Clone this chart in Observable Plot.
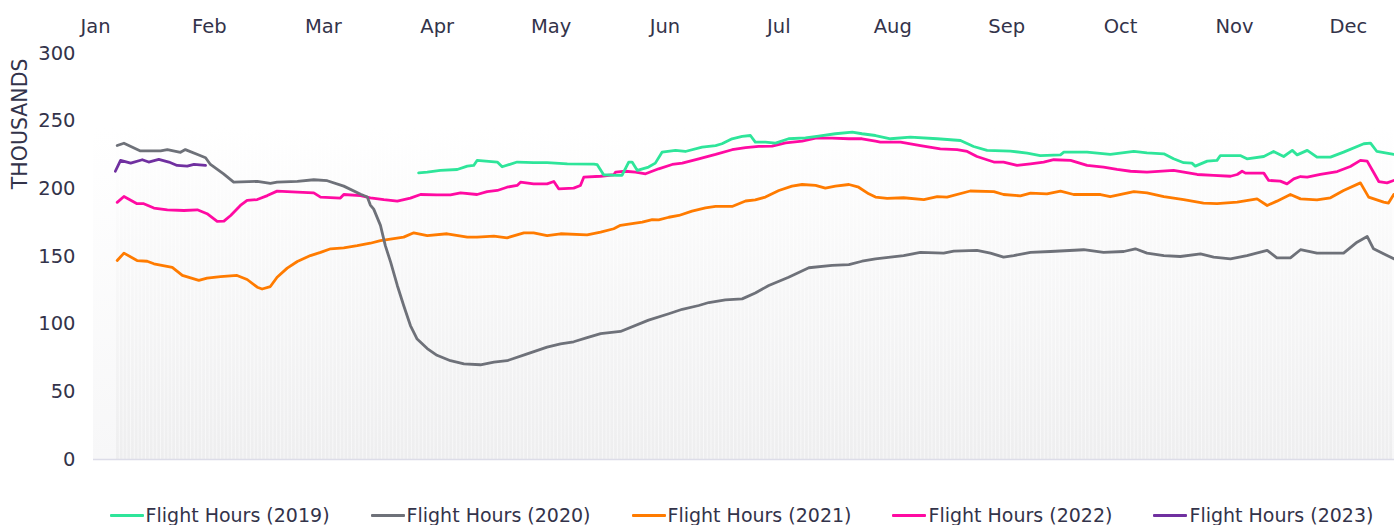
<!DOCTYPE html>
<html><head><meta charset="utf-8">
<script src="https://cdn.jsdelivr.net/npm/d3@7"></script>
<script src="https://cdn.jsdelivr.net/npm/@observablehq/plot@0.6"></script>
<style>
body{margin:0;background:#fff;font-family:"DejaVu Sans",sans-serif;}
#wrap{position:relative;width:1394px;height:525px;overflow:hidden}
#chart svg{display:block}
#legend{position:absolute;left:91px;width:1301px;top:503px;display:flex;justify-content:center;gap:41px;font-size:19px;color:#33334a;line-height:24px;white-space:nowrap}
.item{display:flex;align-items:center}
.sw{width:34px;height:3px;margin-right:2px;border-radius:1px}
</style></head><body>
<div id="wrap"><div id="chart"></div><div id="legend"></div></div>
<script>
// x values are day-of-year (months drawn as 365/12-day slots), y values in thousands of flight hours
const months = ["Jan","Feb","Mar","Apr","May","Jun","Jul","Aug","Sep","Oct","Nov","Dec"];
const yTicks = [0,50,100,150,200,250,300];
const seriesLabels = ["Flight Hours (2019)","Flight Hours (2020)","Flight Hours (2021)","Flight Hours (2022)","Flight Hours (2023)"];
const seriesColors = ["#2ee59a","#6e7179","#ff7b00","#ff0aa2","#7030a0"];

const fh2019 = [[86.3,211.8],[88.6,212.3],[92.1,213.6],[96.6,214.3],[99.3,216.8],[101,217.3],[101.9,221],[107.3,219.8],[108.6,216.3],[112.6,219.8],[117,219.3],[120.6,219.3],[126,218.5],[133.1,218.3],[134,217.8],[135.7,210.4],[139.3,209.9],[140.6,209.9],[142.4,219.8],[143.3,219.8],[144.7,213.6],[147.7,216.1],[149.5,219],[151.3,227.1],[154.9,228.4],[157.5,227.6],[162,230.8],[165.6,232],[167.3,233.3],[170,237],[172.7,238.7],[174.9,239.4],[176.2,234.5],[178.9,234.5],[181.6,233.8],[185.1,237],[189.6,237.7],[193.1,238.9],[197.6,240.7],[202.1,241.9],[204.7,240.7],[208.3,239.4],[212.3,237],[217.6,238.2],[224.8,237],[231,235.7],[234.5,231.3],[238.1,228.4],[244.3,227.9],[248.8,226.4],[252.3,224.6],[257.7,225.1],[258.6,227.1],[264.8,227.1],[271,225.4],[277.3,227.6],[280.8,226.6],[285.3,225.9],[287.9,222.2],[290.6,219.3],[292.8,219],[293.7,216.8],[296.9,220.5],[299.5,221],[300.4,224.6],[305.7,224.6],[307.5,222.2],[312,223.9],[314.6,227.6],[317.3,223.9],[319.6,228.4],[320.9,225.1],[323.6,228.4],[326.2,223.4],[329.8,223.4],[333.3,227.1],[338.7,233.3],[340.5,233.8],[342.2,227.6],[346.7,225.4]];

const fh2020 = [[5.8,232],[7.6,233.7],[12,228],[17.4,228],[19.2,229],[22.7,227],[24,229],[27.6,225],[29.4,223],[30.7,218],[34.2,211],[36.9,205],[43.2,205.5],[46.7,204],[48.5,205],[53.9,205.5],[58.3,206.7],[61.9,206],[66.3,202],[70.8,196],[72.6,194],[73.4,188],[74.3,185],[76.1,173],[77.4,158],[78.8,146],[80.6,128.6],[82.3,113.8],[84.1,99],[85.9,89],[88.6,82],[91.2,77],[94.8,73],[98.4,70.7],[102.8,70],[106.4,72],[109.9,73],[115.3,78],[120.6,83],[124.2,85.5],[127.7,87],[131.3,90],[134.9,93],[140.2,94.6],[147.7,103],[153.1,107.7],[156.7,111],[161.1,113.8],[163.8,116],[168.2,118],[172.7,118.7],[176.2,123],[179.8,128.6],[185.1,134.7],[190.5,141.7],[196.7,143.4],[201.2,144],[204.7,146.5],[208.3,148.3],[212.3,149.5],[215.8,150.7],[220.3,153],[226.5,152.5],[229.2,154],[235.4,154.5],[239,152.5],[242.5,149.5],[245.2,150.7],[249.7,153],[255,153.7],[263.9,155],[269.2,153],[274.6,153.7],[277.7,155.7],[280.8,152.5],[285.3,150.7],[289.7,150],[295.1,152],[298.6,149.5],[303.1,148.3],[307.5,150.7],[312.9,154.5],[315.5,149],[319.1,149],[321.8,155],[326.2,152.5],[333.3,152.5],[336.9,160.6],[339.6,164.8],[341.3,155.7],[346.7,148.3]];

const fh2021 = [[5.8,147],[7.6,152.5],[11.1,147],[13.8,146.5],[15.6,144.6],[20.5,142],[23.2,136],[27.6,132.3],[29.8,134],[33.4,135.2],[37.8,136],[40.5,133],[43.2,127.3],[44.5,126],[46.7,127.8],[48.5,134.7],[51.2,141.4],[53.9,146.3],[57.4,150.7],[60.1,153],[62.8,155.7],[66.3,156.4],[69.9,158],[73.4,159.8],[76.1,161.8],[82.3,164.3],[85,167.5],[88.6,165.5],[93.9,166.8],[99.3,164.3],[101.9,164.3],[106.4,165],[109.9,163.8],[114.4,167.5],[117,167.5],[120.6,165.5],[124.2,166.8],[131.3,166],[134.9,168],[138.4,170.5],[140.2,173],[142.4,174],[146,175.4],[148.7,177.3],[150.4,177],[153.1,179],[155.8,180.3],[159.3,183.5],[162.9,186],[165.6,187],[170,187],[173.6,191],[176.2,191.8],[178.9,193.9],[182.5,198.8],[186,202],[188.7,203.2],[192.3,202.5],[194.9,200.5],[197.6,202],[201.2,203.2],[203.8,201.2],[206.5,196.3],[208.3,193.9],[211.4,193],[215.8,193.4],[221.2,192],[224.8,194.3],[227.4,193.9],[233.6,198.4],[239.9,198],[242.5,195.8],[247,194.8],[249.7,196.8],[254.1,196.3],[257.7,198.3],[261.2,195.8],[268.4,195.8],[271,194.3],[277.3,198],[280.8,197],[285.3,194.3],[290.6,192],[295.9,189.5],[299.5,189],[304.9,190.2],[310.2,192.6],[312.9,187.7],[315.5,190.9],[319.1,195.8],[321.8,192.6],[326.2,191.8],[329.8,193.4],[333.3,198.8],[337.8,204.4],[340,193.9],[344,190.2],[345.3,189.5],[346.7,195.8]];

const fh2022 = [[5.8,190],[7.6,194.3],[11.1,189],[12.9,189],[15.6,185.8],[19.2,184.5],[23.6,184],[27.2,184.5],[29.8,181.6],[32.5,175.9],[34.3,176.1],[36.1,180.3],[38.7,187.7],[40.5,191.4],[43.2,192.1],[45.9,195],[48.5,198.3],[51.2,198],[53.9,197.6],[58.3,197],[60.1,193.9],[65.4,193.2],[66.3,195.8],[70.8,195],[73.4,193.4],[77,192],[80.6,190.9],[84.1,193.1],[86.8,195.8],[91.2,195.6],[94.8,195.6],[97.5,197],[101.9,195.8],[104.6,198],[107.3,198.8],[109.9,201.2],[112.6,202.5],[113.5,204.9],[117,203.7],[120.6,203.7],[122.4,205.4],[123.7,200],[127.7,200.5],[129.5,202.5],[130.4,208.6],[134.9,209.3],[138.4,210.4],[138.9,212.3],[141.5,213],[144.2,212.3],[146.9,211.1],[150.4,214.8],[154,218],[156.7,219],[161.1,222.2],[165.6,225.4],[170,228.9],[173.6,230.4],[177.1,231.3],[180.7,231.5],[184.3,234],[188.7,235.2],[192.3,237.4],[196.7,237.4],[201.2,237],[204.7,237],[208.3,235.2],[209.6,234.5],[215,234.5],[220.3,232],[225.6,229.5],[230.1,228.9],[232.8,227.6],[235.4,223.9],[239.9,219.8],[242.5,219.8],[246.1,217.3],[249.7,218.5],[253.2,219.8],[255.9,221.5],[260.4,221],[264.8,217.3],[269.2,216],[272.8,214.3],[276.4,213],[280.8,212.3],[287.9,213.6],[294.2,210.6],[298.6,209.9],[303.1,209.3],[304.9,210.6],[306.2,213],[307.1,211.6],[312,211.6],[313.3,206.2],[316.4,205.7],[318.2,203.7],[320,207.4],[321.8,209.1],[323.6,208.6],[327.1,210.6],[331.6,212.8],[335.1,216.5],[337.8,221],[339.6,220.5],[341.3,212.3],[342.7,205.4],[344.9,204.4],[346.7,206.2]];

const fh2023 = [[5.3,213],[6.7,221],[9.4,219],[12.5,221.5],[14.2,219.8],[16.9,221.7],[19.6,219.8],[21.8,217.3],[24.5,216.8],[26.3,218],[29.4,217.3]];

const seriesData = [fh2019, fh2020, fh2021, fh2022, fh2023];

const monthLen = 365 / 12;
const monthTicks = months.map((m, i) => i * monthLen);
const xLo = -0.53, xHi = 346.9;
const stripeDays = d3.range(6, 347);

const lineMarks = seriesData.map((s, i) => ({s, i})).reverse().map(({s, i}) =>
  Plot.line(s, {x: d => d[0], y: d => d[1], stroke: seriesColors[i], strokeWidth: 2.8, strokeLinejoin: "round"}));

const chart = Plot.plot({
  width: 1394, height: 480,
  marginLeft: 93, marginRight: 0, marginTop: 53, marginBottom: 21,
  style: {fontFamily: "'DejaVu Sans', sans-serif", fontSize: "19.5px", color: "#33334a", background: "transparent", overflow: "visible"},
  x: {domain: [xLo, xHi]},
  y: {domain: [0, 300]},
  marks: [
    Plot.rectY([0], {x1: () => xLo, x2: () => xHi, y1: () => 0, y2: () => 245, fill: "url(#bgGrad)"}),
    Plot.rectY(stripeDays, {x1: d => d - 0.5, x2: d => d + 0.5, y1: () => 0, y2: () => 245, fill: "url(#stripeGrad)", insetLeft: 0.5, insetRight: 0.5}),
    Plot.ruleY([0], {stroke: "#dcdce8", strokeWidth: 1.5}),
    Plot.axisY({ticks: yTicks, tickSize: 0, tickPadding: 18, label: null}),
    Plot.axisX({anchor: "top", ticks: monthTicks, tickFormat: (d, i) => months[i], tickSize: 0, tickPadding: 21, label: null}),
    Plot.text(["THOUSANDS"], {x: () => xLo, y: () => 248, text: d => d, dx: -73, rotate: -90, fontSize: 20.5, fill: "#33334a", textAnchor: "middle"}),
    ...lineMarks
  ]
});

const svg = d3.select(chart);
const defs = svg.insert("defs", ":first-child");
const g1 = defs.append("linearGradient").attr("id", "bgGrad").attr("x1", 0).attr("y1", 0).attr("x2", 0).attr("y2", 1);
g1.append("stop").attr("offset", "0%").attr("stop-color", "#ffffff");
g1.append("stop").attr("offset", "100%").attr("stop-color", "#f7f7f8");
const g2 = defs.append("linearGradient").attr("id", "stripeGrad").attr("x1", 0).attr("y1", 0).attr("x2", 0).attr("y2", 1);
g2.append("stop").attr("offset", "0%").attr("stop-color", "#ffffff");
g2.append("stop").attr("offset", "100%").attr("stop-color", "#eeeeef");

document.getElementById("chart").appendChild(chart);

const legend = d3.select("#legend");
seriesLabels.forEach((lab, i) => {
  const it = legend.append("div").attr("class", "item");
  it.append("span").attr("class", "sw").style("background", seriesColors[i]);
  it.append("span").text(lab);
});
</script>
</body></html>
